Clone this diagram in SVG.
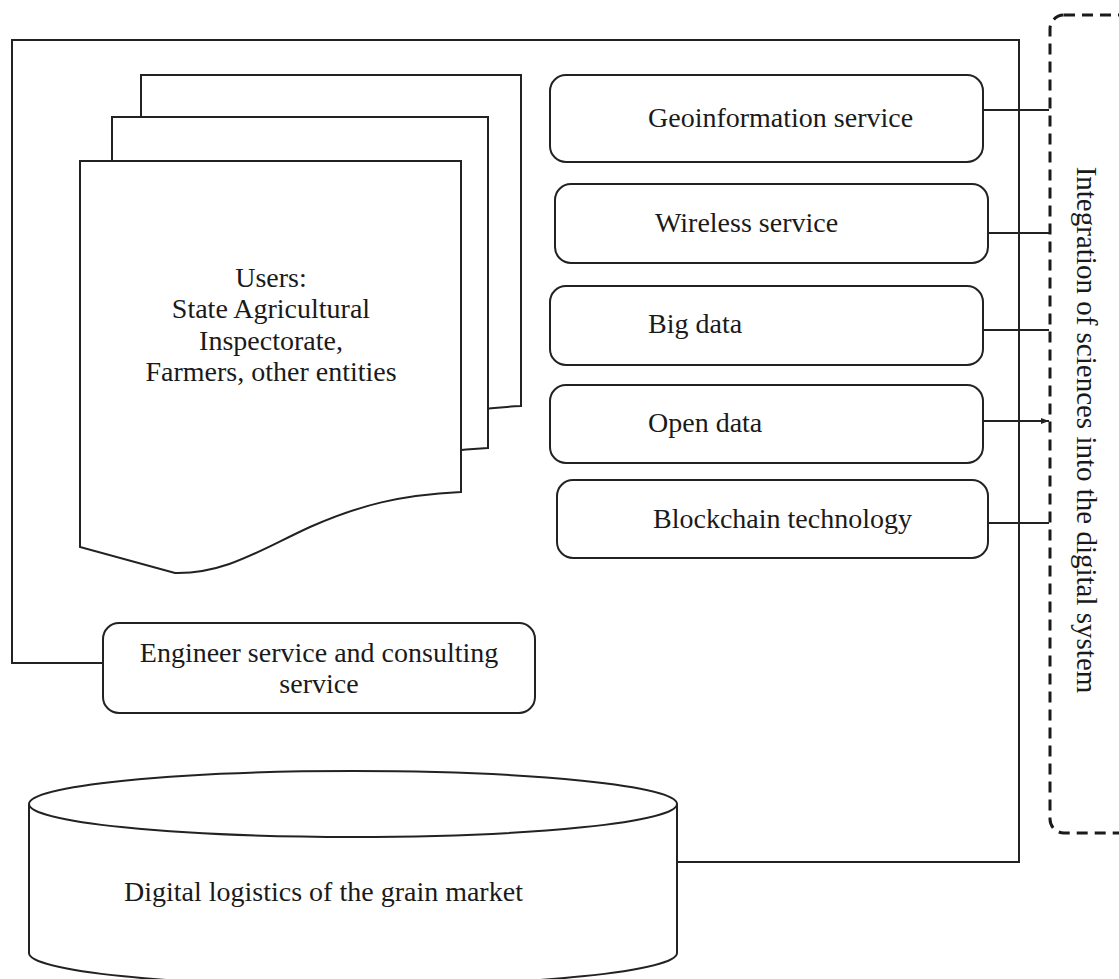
<svg xmlns="http://www.w3.org/2000/svg" width="1119" height="979" viewBox="0 0 1119 979">
  <style>
    .shape { fill: #ffffff; stroke: #222222; stroke-width: 2; }
    .line { fill: none; stroke: #222222; stroke-width: 2; }
    .dash { fill: none; stroke: #1a1a1a; stroke-width: 3; stroke-dasharray: 11 7; }
    text { font-family: "Liberation Serif", "Times New Roman", serif; font-size: 28px; fill: #1a1a1a; }
    .c { text-anchor: middle; }
    .v { font-size: 29px; }
  </style>
  <defs>
    <marker id="arrow" viewBox="0 0 8 8" refX="8" refY="4" markerWidth="8" markerHeight="8" markerUnits="userSpaceOnUse" orient="auto">
      <path d="M0,1 L8,4 L0,7 Z" fill="#222222"/>
    </marker>
  </defs>
  <rect width="1119" height="979" fill="#ffffff"/>

  <g id="connectors">
    <polyline class="line" points="103,663 12,663 12,40 1019,40 1019,862 677,862"/>
    <line class="line" x1="983" y1="110" x2="1049" y2="110"/>
    <line class="line" x1="988" y1="233" x2="1049" y2="233"/>
    <line class="line" x1="983" y1="330" x2="1049" y2="330"/>
    <line class="line" x1="983" y1="421" x2="1049" y2="421" marker-end="url(#arrow)"/>
    <line class="line" x1="988" y1="523" x2="1049" y2="523"/>
  </g>

  <g id="integration">
    <rect class="dash" x="1050" y="15" width="100" height="818" rx="14" ry="14"/>
    <text transform="translate(1077,430) rotate(90)" class="c v">Integration of sciences into the digital system</text>
  </g>

  <g id="users">
    <path class="shape" d="M141,75 H521 V406 C460,409 420,419 370,441 C320,464 285,488 235,487 L141,461 Z"/>
    <path class="shape" d="M112,117 H488 V448 C427,451 387,461 337,483 C287,506 252,530 202,529 L112,503 Z"/>
    <path class="shape" d="M80,161 H461 V492 C400,495 360,505 310,527 C260,550 225,574 175,573 L80,547 Z"/>
    <text class="c" x="271" y="287">Users:</text>
    <text class="c" x="271" y="318">State Agricultural</text>
    <text class="c" x="271" y="350">Inspectorate,</text>
    <text class="c" x="271" y="381">Farmers, other entities</text>
  </g>

  <g id="geoinformation">
    <rect class="shape" x="550" y="75" width="433" height="87" rx="16" ry="16"/>
    <text x="648" y="127">Geoinformation service</text>
  </g>
  <g id="wireless">
    <rect class="shape" x="555" y="184" width="433" height="79" rx="16" ry="16"/>
    <text x="655" y="232">Wireless service</text>
  </g>
  <g id="bigdata">
    <rect class="shape" x="550" y="286" width="433" height="79" rx="16" ry="16"/>
    <text x="648" y="333">Big data</text>
  </g>
  <g id="opendata">
    <rect class="shape" x="550" y="385" width="433" height="78" rx="16" ry="16"/>
    <text x="648" y="432">Open data</text>
  </g>
  <g id="blockchain">
    <rect class="shape" x="557" y="480" width="431" height="78" rx="16" ry="16"/>
    <text x="653" y="528">Blockchain technology</text>
  </g>

  <g id="engineer">
    <rect class="shape" x="103" y="623" width="432" height="90" rx="16" ry="16"/>
    <text class="c" x="319" y="662">Engineer service and consulting</text>
    <text class="c" x="319" y="693">service</text>
  </g>

  <g id="logistics">
    <path class="shape" d="M29,804 V953 A324,33 0 0 0 677,953 V804"/>
    <ellipse class="shape" cx="353" cy="804" rx="324" ry="33"/>
    <text x="124" y="901">Digital logistics of the grain market</text>
  </g>
</svg>
